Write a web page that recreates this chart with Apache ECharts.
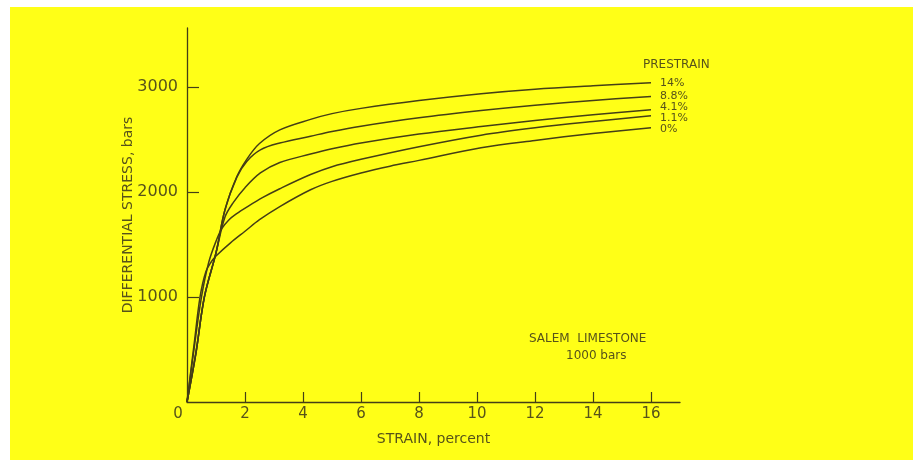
<!DOCTYPE html>
<html>
<head>
<meta charset="utf-8">
<style>
  html, body { margin: 0; padding: 0; background: #ffffff; }
  #chart { width: 913px; height: 460px; }
</style>
<script src="https://cdn.jsdelivr.net/npm/echarts@6/dist/echarts.min.js"></script>
</head>
<body>
<div id="chart"></div>
<script>
// Stress–strain curves for Salem limestone at 1000 bars confining pressure,
// one curve per prestrain level. Points are [strain %, differential stress bars].
const seriesNames = ['14%', '8.8%', '4.1%', '1.1%', '0%'];

const prestrain14 = [
  [0, 0], [0.3, 450], [0.6, 1000], [1.0, 1420], [1.31, 1830], [1.72, 2146],
  [2.06, 2310], [2.5, 2460], [3.2, 2590], [4.26, 2690], [5, 2745], [6, 2795],
  [8, 2870], [10.14, 2935], [12, 2978], [14, 3010], [16, 3038]
];
const prestrain8_8 = [
  [0, 0], [0.3, 450], [0.6, 1000], [1.0, 1420], [1.31, 1830], [1.72, 2140],
  [2.06, 2290], [2.53, 2400], [3.2, 2465], [4.26, 2530], [5, 2575], [6, 2625],
  [8, 2705], [10.14, 2774], [12, 2825], [14, 2870], [16, 2908]
];
const prestrain4_1 = [
  [0, 0], [0.3, 460], [0.6, 1000], [1.0, 1420], [1.31, 1760], [1.6, 1900],
  [2.0, 2040], [2.53, 2180], [3.2, 2280], [4.26, 2360], [5, 2410], [6, 2465],
  [8, 2550], [10.14, 2622], [12, 2680], [14, 2735], [16, 2781]
];
const prestrain1_1 = [
  [0, 0], [0.25, 520], [0.5, 1000], [0.75, 1330], [1.0, 1530], [1.2, 1650],
  [1.45, 1735], [1.7, 1790], [2.06, 1855], [2.6, 1945], [3.2, 2030],
  [4.26, 2165], [5, 2240], [6, 2310], [8, 2430], [10.14, 2540], [12, 2610],
  [14, 2670], [16, 2724]
];
const prestrain0 = [
  [0, 0], [0.25, 560], [0.45, 1000], [0.65, 1240], [0.85, 1340], [1.0, 1390],
  [1.5, 1515], [2.0, 1625], [2.5, 1735], [3.2, 1860], [4.26, 2020], [5, 2100],
  [6, 2180], [7, 2245], [8, 2300], [10.14, 2420], [12, 2490], [14, 2555],
  [16, 2610]
];

const xTickValues = [2, 4, 6, 8, 10, 12, 14, 16];
const xLabelValues = [0, 2, 4, 6, 8, 10, 12, 14, 16];
const yTickValues = [1000, 2000, 3000];

const curves = [prestrain14, prestrain8_8, prestrain4_1, prestrain1_1, prestrain0];
// small vertical nudges so the stacked end labels do not collide
const endLabelShift = [[0, 0], [0, 0], [0, -3], [0, 2], [0, 1]];

const ink = '#443e16';
const textInk = '#57531a';
const font = 'DejaVu Sans';

const chart = echarts.init(document.getElementById('chart'), null, { renderer: 'canvas' });

chart.setOption({
  animation: false,
  backgroundColor: '#ffffff',
  graphic: [
    {
      type: 'rect', z: -10, silent: true,
      shape: { x: 10, y: 7, width: 903, height: 453 },
      style: { fill: '#ffff17' }
    },
    {
      type: 'text', left: 643, top: 59,
      style: { text: 'PRESTRAIN', fill: textInk, font: '12px "DejaVu Sans"' }
    },
    {
      type: 'text', left: 529, top: 333,
      style: { text: 'SALEM  LIMESTONE', fill: textInk, font: '12px "DejaVu Sans"' }
    },
    {
      type: 'text', left: 566, top: 350,
      style: { text: '1000 bars', fill: textInk, font: '12px "DejaVu Sans"' }
    }
  ],
  grid: { left: 187, right: 233, top: 28, bottom: 58, containLabel: false },
  xAxis: {
    type: 'value', min: 0, max: 17,
    name: 'STRAIN, percent', nameLocation: 'middle', nameGap: 30, nameMoveOverlap: false,
    nameTextStyle: { color: textInk, fontFamily: font, fontSize: 14 },
    axisLine: { show: true, lineStyle: { color: ink, width: 1.3 } },
    axisTick: { show: true, inside: true, length: 10, customValues: xTickValues,
      lineStyle: { color: ink, width: 1.2 } },
    axisLabel: {
      customValues: xLabelValues, color: textInk, fontFamily: font, fontSize: 15, margin: 5,
      formatter: v => v === 0 ? '{z|0}' : String(v),
      rich: { z: { color: textInk, fontFamily: font, fontSize: 15, padding: [0, 18, 0, 0] } }
    },
    splitLine: { show: false }
  },
  yAxis: {
    type: 'value', min: 0, max: 3560,
    name: 'DIFFERENTIAL STRESS, bars', nameLocation: 'middle', nameGap: 52, nameRotate: 90,
    nameMoveOverlap: false,
    nameTextStyle: { color: textInk, fontFamily: font, fontSize: 14 },
    axisLine: { show: true, lineStyle: { color: ink, width: 1.3 } },
    axisTick: { show: true, inside: true, length: 12, customValues: yTickValues,
      lineStyle: { color: ink, width: 1.2 } },
    axisLabel: { customValues: yTickValues, color: textInk, fontFamily: font, fontSize: 16, margin: 9,
      formatter: v => String(v) },
    splitLine: { show: false }
  },
  series: curves.map((data, i) => ({
    type: 'line',
    name: seriesNames[i],
    data: data,
    smooth: 0.35,
    symbol: 'none',
    lineStyle: { color: ink, width: 1.5 },
    endLabel: {
      show: true, formatter: seriesNames[i], distance: 9, offset: endLabelShift[i],
      color: textInk, fontFamily: font, fontSize: 11
    }
  }))
});
</script>
</body>
</html>
